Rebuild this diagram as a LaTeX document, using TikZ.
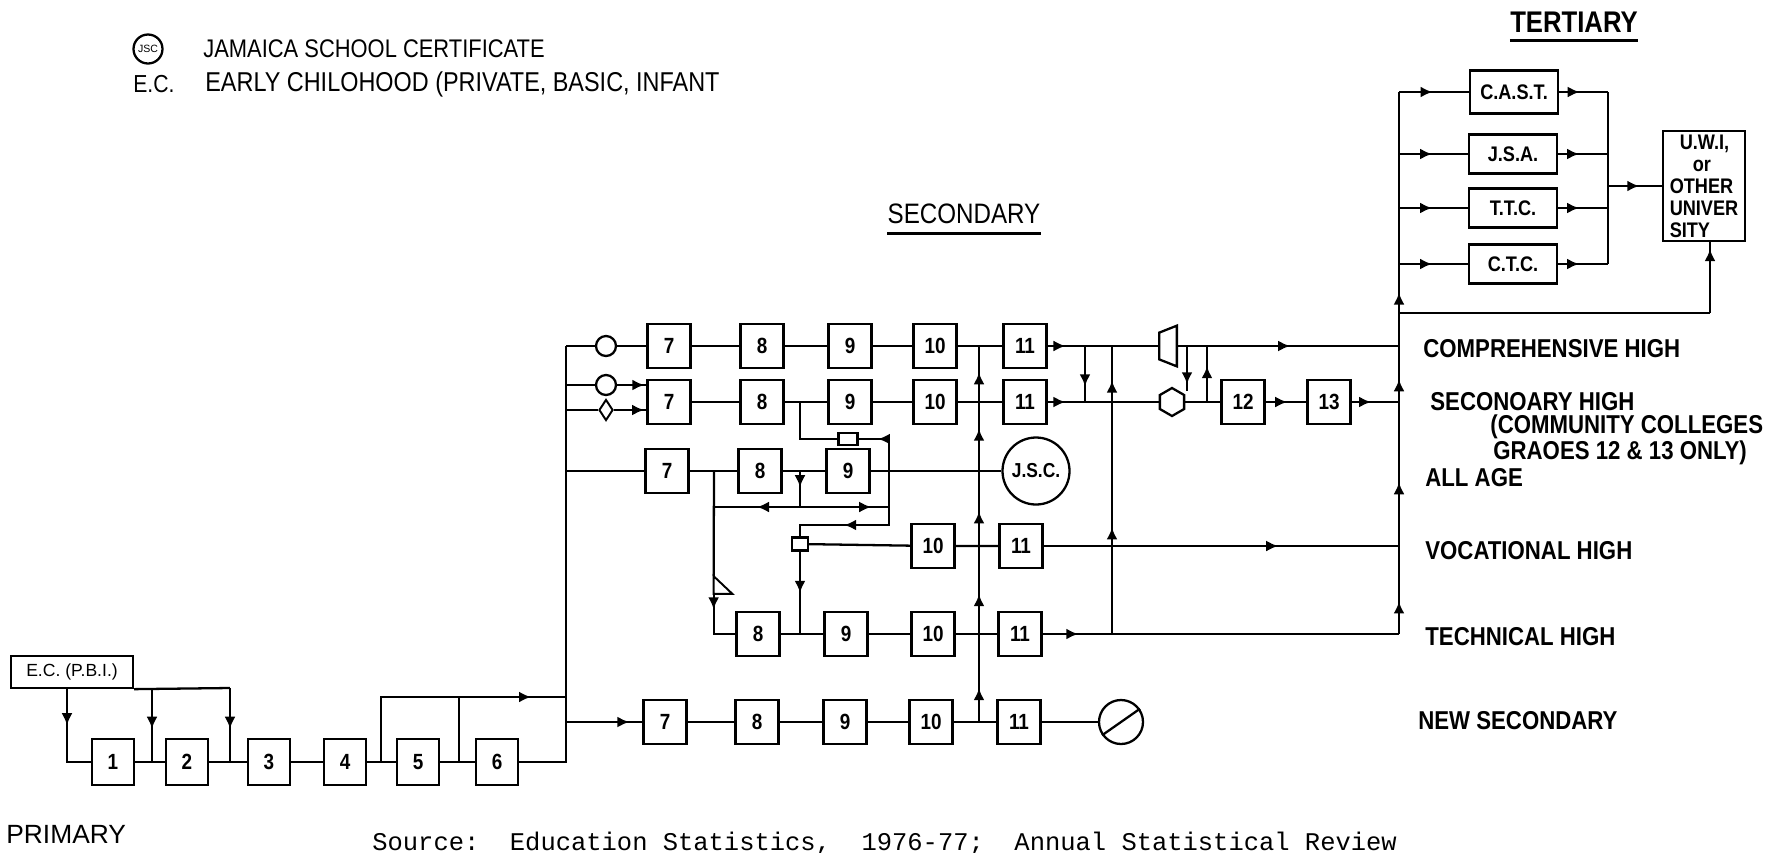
\documentclass[tikz,border=0pt]{standalone}
\usepackage{fontspec}
\setmainfont{Liberation Sans}[FakeStretch=0.86]
\newfontfamily\plainsans{Liberation Sans}
\newfontfamily\srcmono{Liberation Mono}
\usetikzlibrary{positioning, arrows.meta, shapes.geometric, decorations.markings, calc}

\begin{document}
\begin{tikzpicture}[
    x=0.2mm, y=-0.2mm,
    % grade boxes
    grade/.style={
        draw, line width=1.3pt, rectangle,
        minimum width=8.6mm, minimum height=8.8mm, inner sep=0pt,
        font=\bfseries\fontsize{12.5}{15}\selectfont
    },
    % tertiary institution boxes
    inst/.style={
        grade, minimum width=17.6mm, minimum height=7.8mm,
        font=\bfseries\fontsize{12}{14}\selectfont
    },
    % stream labels on the right
    stream/.style={anchor=west, inner sep=0pt, font=\bfseries\fontsize{14.7}{17}\selectfont},
    % small marks on the lines
    ring/.style={circle, draw, line width=1.3pt, minimum size=4mm, inner sep=0pt},
    gate/.style={draw, line width=1.3pt, minimum width=3.8mm, minimum height=2.4mm, inner sep=0pt},
    % connectors
    link/.style={line width=1.3pt},
    arrat/.style={postaction={decorate, decoration={markings,
        mark=at position #1 with {\arrow{Latex[length=2.4mm, width=2.2mm]}}}}}
]
\useasboundingbox (0,0) rectangle (1786,852);

% Legend
\node[ring, minimum size=5.8mm, font=\plainsans\fontsize{6}{7}\selectfont] (lgjsc) at (148,49) {JSC};
\node[anchor=west, inner sep=0pt, font=\fontsize{14.5}{17}\selectfont] (lgjsctxt) at (203,49) {JAMAICA SCHOOL CERTIFICATE};
\node[anchor=west, inner sep=0pt, font=\fontsize{14}{17}\selectfont] (lgec) at (133,84) {E.C.};
\node[anchor=west, inner sep=0pt, font=\fontsize{15.5}{18}\selectfont] (lgectxt) at (205,84) {EARLY CHILOHOOD (PRIVATE, BASIC, INFANT};

% Headings
\node[inner sep=0pt, font=\bfseries\fontsize{17}{20}\selectfont] (hdtert) at (1574,22) {TERTIARY};
\draw[line width=1.8pt] ($(hdtert.south west)+(0,8)$) -- ($(hdtert.south east)+(0,8)$);
\node[inner sep=0pt, font=\fontsize{16}{19}\selectfont] (hdsec) at (964,214) {SECONDARY};
\draw[line width=1.8pt] ($(hdsec.south west)+(0,9)$) -- ($(hdsec.south east)+(0,9)$);

% Primary
\node[draw, line width=1.3pt, minimum width=24.4mm, minimum height=6.4mm, inner sep=0pt,
      font=\plainsans\fontsize{10}{12}\selectfont] (ecb) at (72,672) {E.C. (P.B.I.)};
\foreach \n/\x in {1/113, 2/187, 3/269, 4/345, 5/418, 6/497}
    \node[grade, minimum width=8.4mm, minimum height=9.2mm] (p\n) at (\x,762) {\n};

\coordinate (ecd1) at (67,688);
\coordinate (ecd2) at (152,688);
\coordinate (ecd3) at (230,688);
\coordinate (j12) at (152,762);
\coordinate (j23) at (230,762);
\coordinate (j45) at (381,762);
\coordinate (j56) at (459,762);
\coordinate (j56t) at (459,697);
\coordinate (byp) at (566,697);

\draw[link] (p1) -- (p2) -- (p3) -- (p4) -- (p5) -- (p6);
\draw[link] (ecb.south east) -- (ecd3);
\draw[link, arrat=0.38] (ecd1) |- (p1);
\draw[link, arrat=0.55] (ecd2) -- (j12);
\draw[link, arrat=0.55] (ecd3) -- (j23);
\draw[link, arrat=0.86] (j45) |- (byp);
\draw[link] (j56) -- (j56t);

% Secondary trunk
\coordinate (ta) at (566,346);
\coordinate (tb1) at (566,385);
\coordinate (tb2) at (566,410);
\coordinate (tc) at (566,471);
\coordinate (tf) at (566,722);
\draw[link] (p6) -| (ta);

% Comprehensive row
\node[ring] (ca) at (606,346) {};
\foreach \n/\x in {7/669, 8/762, 9/850, 10/935, 11/1025}
    \node[grade] (a\n) at (\x,346) {\n};
\draw[link] (ta) -- (ca) -- (a7) -- (a8) -- (a9) -- (a10) -- (a11);

% Secondary high row
\node[ring] (cb) at (606,385) {};
\node[diamond, draw, line width=1.1pt, minimum width=2.8mm, minimum height=4.2mm, inner sep=0pt, aspect=0.7] (db) at (606,410) {};
\foreach \n/\x in {7/669, 8/762, 9/850, 10/935, 11/1025}
    \node[grade] (b\n) at (\x,402) {\n};
\draw[link] (tb1) -- (cb);
\draw[link, arrat=0.93] (cb) -- (cb -| b7.west);
\draw[link] (tb2) -- (db);
\draw[link, arrat=0.93] (db) -- (db -| b7.west);
\draw[link] (b7) -- (b8) -- (b9) -- (b10) -- (b11);

% All age row
\foreach \n/\x in {7/667, 8/760, 9/848}
    \node[grade] (c\n) at (\x,471) {\n};
\node[circle, draw, line width=1.3pt, minimum size=13.4mm, inner sep=0pt,
      font=\bfseries\fontsize{11.5}{13}\selectfont] (jsc) at (1036,471) {J.S.C.};
\draw[link] (tc) -- (c7) -- (c8) -- (c9) -- (jsc);

% Transfer gates
\node[gate] (sqb) at (848,439) {};
\node[gate, minimum width=3.2mm, minimum height=2.6mm] (sqd) at (800,544) {};
\coordinate (jb89) at (800,402);
\coordinate (jc9) at (889,471);
\coordinate (jd1) at (800,525);
\draw[link] (jb89) |- (sqb);
\draw[link, arrat=0.69] (jc9) |- (sqb);
\draw[link, arrat=0.64] (jc9) |- (jd1) -- (sqd);

% All age crossovers
\coordinate (jc78) at (714,471);
\coordinate (jc89) at (800,471);
\coordinate (jcm) at (800,507);
\coordinate (jcl) at (714,507);
\coordinate (jcr) at (889,507);
\node[minimum width=3.6mm, minimum height=3.4mm, inner sep=0pt] (tri) at (723,585) {};
\draw[line width=1.1pt] (tri.north west) -- (tri.south west) -- (tri.south east) -- cycle;
\draw[link] (jc78) -- (tri.north west);
\draw[link, arrat=0.45] (jc89) -- (jcm);
\draw[link, arrat=0.5] (jcm) -- (jcl);
\draw[link, arrat=0.8] (jcm) -- (jcr);

% Vocational row
\node[grade] (d10) at (933,546) {10};
\node[grade] (d11) at (1021,546) {11};
\coordinate (td) at (1399,546);
\draw[link] (sqd) -- (d10) -- (d11);
\draw[link, arrat=0.66] (d11) -- (td);

% Technical row
\foreach \n/\x in {8/758, 9/846, 10/933, 11/1020}
    \node[grade] (e\n) at (\x,634) {\n};
\coordinate (je89) at (800,634);
\coordinate (te) at (1399,634);
\draw[link, arrat=0.5] (sqd) -- (je89);
\draw[link, arrat=0.25] (tri.south west) |- (e8);
\draw[link] (e8) -- (e9) -- (e10) -- (e11);
\draw[link, arrat=0.1] (e11) -- (te);

% New secondary row
\foreach \n/\x in {7/665, 8/757, 9/845, 10/931, 11/1019}
    \node[grade] (f\n) at (\x,722) {\n};
\node[circle, draw, line width=1.3pt, minimum size=8.8mm, inner sep=0pt] (nul) at (1121,722) {};
\draw[link] (nul.215) -- (nul.35);
\draw[link, arrat=0.83] (tf) -- (f7);
\draw[link] (f7) -- (f8) -- (f9) -- (f10) -- (f11) -- (nul);

% Upward transfers
\coordinate (jf1011) at (979,722);
\coordinate (ja1011) at (979,346);
\draw[link, arrat=0.09, arrat=0.34, arrat=0.56, arrat=0.78, arrat=0.93] (jf1011) -- (ja1011);
\coordinate (je11r) at (1112,634);
\coordinate (jar) at (1112,346);
\draw[link, arrat=0.37, arrat=0.88] (je11r) -- (jar);
\coordinate (jas) at (1085,346);
\coordinate (jbs) at (1085,402);
\draw[link, arrat=0.72] (jas) -- (jbs);

% Grades 12 and 13
\node[minimum width=3.4mm, minimum height=8mm, inner sep=0pt] (trap) at (1168,346) {};
\draw[link] (trap.north east) -- (trap.south east) -- ($(trap.south west)+(0,-7)$) -- ($(trap.north west)+(0,7)$) -- cycle;
\node[regular polygon, regular polygon sides=6, shape border rotate=30, draw, line width=1.3pt,
      minimum size=5.6mm, inner sep=0pt] (hx) at (1172,402) {};
\node[grade] (b12) at (1243,402) {12};
\node[grade] (b13) at (1329,402) {13};
\coordinate (tab) at (1399,346);
\coordinate (tbb) at (1399,402);
\coordinate (jat) at (1187,346);
\coordinate (jatd) at (1187,391);
\coordinate (jbu) at (1207,402);
\coordinate (jau) at (1207,346);
\draw[link, arrat=0.16] (a11) -- (trap);
\draw[link, arrat=0.51] (trap) -- (tab);
\draw[link, arrat=0.85] (jat) -- (jatd);
\draw[link, arrat=0.16] (b11) -- (hx);
\draw[link] (hx) -- (b12);
\draw[link, arrat=0.64] (jbu) -- (jau);
\draw[link, arrat=0.53] (b12) -- (b13);
\draw[link, arrat=0.41] (b13) -- (tbb);

% Tertiary
\coordinate (tcast) at (1399,92);
\coordinate (tjsa) at (1399,154);
\coordinate (tttc) at (1399,208);
\coordinate (tctc) at (1399,264);
\coordinate (tuwi) at (1399,313);
\draw[link, arrat=0.06, arrat=0.28, arrat=0.47, arrat=0.63] (te) -- (tcast);
\node[inst, minimum height=8.6mm] (cast) at (1514,92) {C.A.S.T.};
\node[inst] (jsa) at (1513,154) {J.S.A.};
\node[inst] (ttc) at (1513,208) {T.T.C.};
\node[inst] (ctc) at (1513,264) {C.T.C.};
\foreach \b/\y in {cast/92, jsa/154, ttc/208, ctc/264} {
    \coordinate (o\b) at (1608,\y);
    \draw[link, arrat=0.48] (t\b) -- (\b);
    \draw[link, arrat=0.42] (\b) -- (o\b);
}
\draw[link] (ocast) -- (octc);
\coordinate (ouwi) at (1608,186);
\node[draw, line width=1.3pt, minimum width=16.4mm, minimum height=21.6mm, inner sep=2pt, align=left,
      font=\bfseries\fontsize{12}{12.5}\selectfont] (uwi) at (1704,186)
      {\ \ U.W.I,\\\hspace{4.6mm}or\\OTHER\\UNIVER\\SITY};
\draw[link, arrat=0.58] (ouwi) -- (uwi);
\coordinate (uwib) at (1710,313);
\draw[link] (tuwi) -- (uwib);
\draw[link, arrat=0.9] (uwib) -- (uwib |- uwi.south);

% Stream labels
\node[stream] (lcomp) at (1423,349) {COMPREHENSIVE HIGH};
\node[stream] (lsec) at (1430,402) {SECONOARY HIGH};
\node[stream] (lcc1) at (1490,427) {(COMMUNITY COLLEGES};
\node[stream] (lcc2) at (1493,453) {GRAOES 12 \& 13 ONLY)};
\node[stream] (lall) at (1425,478) {ALL AGE};
\node[stream] (lvoc) at (1425,551) {VOCATIONAL HIGH};
\node[stream] (ltec) at (1425,637) {TECHNICAL HIGH};
\node[stream] (lnew) at (1418,721) {NEW SECONDARY};

% Footer
\node[anchor=west, inner sep=0pt, font=\plainsans\fontsize{15}{18}\selectfont] (lprim) at (6,834) {PRIMARY};
\node[anchor=base west, inner sep=0pt, font=\srcmono\fontsize{14.5}{17}\selectfont] (src) at (372,850)
      {Source:\ \ Education Statistics, \ 1976-77; \ Annual Statistical Review};

\end{tikzpicture}
\end{document}
